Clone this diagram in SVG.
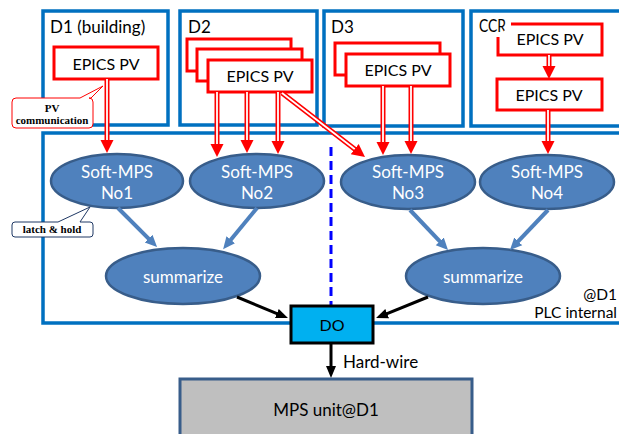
<svg xmlns="http://www.w3.org/2000/svg" width="619" height="434" viewBox="0 0 619 434">
<style>
.frame{fill:none;stroke:#0070C0;stroke-width:3.5}
.pv{fill:#fff;stroke:#FF0000;stroke-width:3}
.ell{fill:#4F81BD;stroke:#385D8A;stroke-width:2.5}
.t{font-family:Lato,"Liberation Sans",Arial,sans-serif;fill:#000}
.w{font-family:Lato,"Liberation Sans",Arial,sans-serif;fill:#fff;font-size:17px;text-anchor:middle}
.epv{font-size:16px;text-anchor:middle}
.ttl{font-size:17px}
.o{stroke:#FF0000;stroke-width:5;fill:none}
.i{stroke:#fff;stroke-width:1.8;fill:none}
.blue{stroke:#4F81BD;stroke-width:4;fill:none}
.blk{stroke:#000;stroke-width:3;fill:none}
.co{font-family:"Liberation Serif","Times New Roman",serif;font-weight:bold;font-size:11px;text-anchor:middle;fill:#000}
</style>
<defs>
<marker id="rh" markerUnits="userSpaceOnUse" markerWidth="16" markerHeight="16" viewBox="0 -8 16 16" refX="1" refY="0" orient="auto"><path d="M0,-6.5 L13,0 L0,6.5 Z" fill="#FF0000"/></marker>
<marker id="bh" markerUnits="userSpaceOnUse" markerWidth="14" markerHeight="14" viewBox="0 -7 14 14" refX="6" refY="0" orient="auto"><path d="M0,-5.5 L12,0 L0,5.5 Z" fill="#4F81BD"/></marker>
<marker id="kh" markerUnits="userSpaceOnUse" markerWidth="14" markerHeight="14" viewBox="0 -7 14 14" refX="6" refY="0" orient="auto"><path d="M0,-5 L12,0 L0,5 Z" fill="#000"/></marker>
</defs>
<rect width="619" height="434" fill="#fff"/>

<g id="D1">
<rect class="frame" x="43" y="11" width="125" height="114"/>
<text class="t ttl" x="50" y="33">D1 (building)</text>
</g>
<g id="D2">
<rect class="frame" x="180" y="11" width="137" height="114"/>
<text class="t ttl" x="188" y="33">D2</text>
</g>
<g id="D3">
<rect class="frame" x="324" y="11" width="139" height="115"/>
<text class="t ttl" x="331" y="33">D3</text>
</g>
<g id="CCR">
<rect class="frame" x="471" y="11" width="170" height="115"/>
<text class="t ttl" x="479" y="32" textLength="27" lengthAdjust="spacingAndGlyphs">CCR</text>
</g>
<g id="PLC">
<rect class="frame" x="43" y="133" width="600" height="190"/>
<text class="t" font-size="15.5" x="617" y="300" text-anchor="end">@D1</text>
<text class="t" font-size="15.5" x="617" y="318" text-anchor="end">PLC internal</text>
</g>

<g id="pv-d1">
<rect class="pv" x="54" y="47" width="104" height="32"/>
<text class="t epv" x="106" y="70">EPICS PV</text>
</g>
<g id="pv-d2">
<rect class="pv" x="187" y="39" width="104" height="32"/>
<rect class="pv" x="197" y="49" width="105" height="32"/>
<rect class="pv" x="208" y="60" width="104" height="32"/>
<text class="t epv" x="260" y="82">EPICS PV</text>
</g>
<g id="pv-d3">
<rect class="pv" x="335" y="43" width="105" height="32"/>
<rect class="pv" x="346" y="54" width="104" height="32"/>
<text class="t epv" x="398" y="76">EPICS PV</text>
</g>
<g id="pv-ccr1">
<path class="pv" d="M511,24 H602 V55 H498 V37"/>
<text class="t epv" x="550" y="45">EPICS PV</text>
</g>
<g id="pv-ccr2">
<rect class="pv" x="497" y="79" width="105" height="31"/>
<text class="t epv" x="549" y="101">EPICS PV</text>
</g>

<g id="no1">
<ellipse class="ell" cx="117" cy="181" rx="66" ry="27"/>
<text class="w" x="117" y="178">Soft-MPS</text>
<text class="w" x="117" y="199">No1</text>
</g>
<g id="no2">
<ellipse class="ell" cx="257" cy="181" rx="67" ry="27"/>
<text class="w" x="257" y="178">Soft-MPS</text>
<text class="w" x="257" y="199">No2</text>
</g>
<g id="no3">
<ellipse class="ell" cx="408" cy="182" rx="67" ry="27"/>
<text class="w" x="408" y="178">Soft-MPS</text>
<text class="w" x="408" y="199">No3</text>
</g>
<g id="no4">
<ellipse class="ell" cx="547" cy="182" rx="67" ry="27"/>
<text class="w" x="547" y="178">Soft-MPS</text>
<text class="w" x="547" y="199">No4</text>
</g>
<g id="sum1">
<ellipse class="ell" cx="183" cy="276" rx="77" ry="28"/>
<text class="w" x="183" y="283">summarize</text>
</g>
<g id="sum2">
<ellipse class="ell" cx="483" cy="276" rx="77" ry="28"/>
<text class="w" x="483" y="283">summarize</text>
</g>

<g id="connectors">
<line x1="331" y1="147" x2="331" y2="305" stroke="#0000FF" stroke-width="3" stroke-dasharray="9 5"/>
<line class="o" x1="107" y1="79" x2="107" y2="141"/><line class="i" x1="107" y1="79" x2="107" y2="141" marker-end="url(#rh)"/>
<line class="o" x1="217" y1="92" x2="217" y2="145"/><line class="i" x1="217" y1="92" x2="217" y2="145" marker-end="url(#rh)"/>
<line class="o" x1="247" y1="92" x2="247" y2="141"/><line class="i" x1="247" y1="92" x2="247" y2="141" marker-end="url(#rh)"/>
<line class="o" x1="278" y1="92" x2="278" y2="142"/><line class="i" x1="278" y1="92" x2="278" y2="142" marker-end="url(#rh)"/>
<line class="o" x1="282" y1="93" x2="355.5" y2="149.7"/><line class="i" x1="282" y1="93" x2="355.5" y2="149.7" marker-end="url(#rh)"/>
<line class="o" x1="383" y1="86" x2="383" y2="143"/><line class="i" x1="383" y1="86" x2="383" y2="143" marker-end="url(#rh)"/>
<line class="o" x1="411" y1="86" x2="411" y2="142"/><line class="i" x1="411" y1="86" x2="411" y2="142" marker-end="url(#rh)"/>
<line class="o" x1="548" y1="110" x2="548" y2="142"/><line class="i" x1="548" y1="110" x2="548" y2="142" marker-end="url(#rh)"/>
<line class="o" x1="549" y1="55" x2="549" y2="67"/><line class="i" x1="549" y1="55" x2="549" y2="67" marker-end="url(#rh)"/>
<line class="blue" x1="118" y1="208" x2="152.8" y2="242.8" marker-end="url(#bh)"/>
<line class="blue" x1="257" y1="208" x2="226.9" y2="244.5" marker-end="url(#bh)"/>
<line class="blue" x1="410" y1="210" x2="443.9" y2="245.7" marker-end="url(#bh)"/>
<line class="blue" x1="548" y1="210" x2="514.1" y2="245.7" marker-end="url(#bh)"/>
<line class="blk" x1="237" y1="297" x2="282.4" y2="315.8" marker-end="url(#kh)"/>
<line class="blk" x1="428" y1="297" x2="381.6" y2="315.8" marker-end="url(#kh)"/>
<line class="blk" x1="331" y1="343" x2="331" y2="372" marker-end="url(#kh)"/>
<text class="t" x="343" y="368" font-size="17">Hard-wire</text>
</g>

<g id="DO">
<rect x="291" y="306" width="82" height="37" fill="#00B0F0" stroke="#000" stroke-width="3"/>
<text class="t" x="332" y="331" font-size="16" text-anchor="middle">DO</text>
</g>
<g id="MPS">
<rect x="180" y="379" width="292" height="70" fill="#BFBFBF" stroke="#385D8A" stroke-width="3"/>
<text class="t" x="326" y="416" font-size="17" text-anchor="middle">MPS unit@D1</text>
</g>

<g id="callout-pv">
<path d="M16,98 H80 L103,86 L91,98 H89 Q93,98 93,102 V124 Q93,128 89,128 H16 Q12,128 12,124 V102 Q12,98 16,98 Z" fill="#fff" stroke="#FF0000" stroke-width="1"/>
<text class="co" x="52" y="112">PV</text>
<text class="co" x="52" y="124">communication</text>
</g>
<g id="callout-latch">
<path d="M15,222 H58 L90,207 L80,222 H90 Q93,222 93,225 V234 Q93,237 90,237 H15 Q12,237 12,234 V225 Q12,222 15,222 Z" fill="#fff" stroke="#1F3864" stroke-width="1"/>
<text class="co" x="52" y="233" font-size="10.5">latch &amp; hold</text>
</g>
</svg>
